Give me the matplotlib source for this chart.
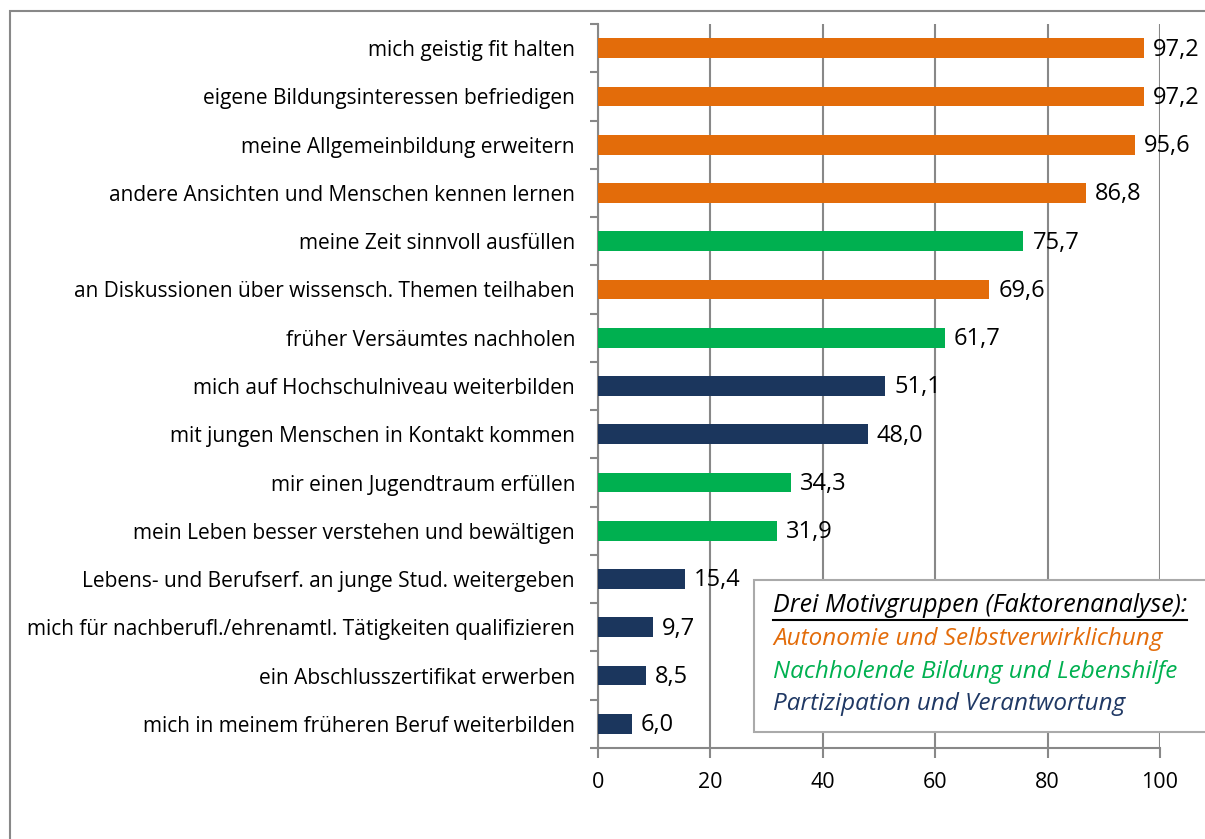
import matplotlib
matplotlib.use("Agg")
import matplotlib.pyplot as plt
from matplotlib.patches import Rectangle
import numpy as np

labels = [
    "mich geistig fit halten",
    "eigene Bildungsinteressen befriedigen",
    "meine Allgemeinbildung erweitern",
    "andere Ansichten und Menschen kennen lernen",
    "meine Zeit sinnvoll ausfüllen",
    "an Diskussionen über wissensch. Themen teilhaben",
    "früher Versäumtes nachholen",
    "mich auf Hochschulniveau weiterbilden",
    "mit jungen Menschen in Kontakt kommen",
    "mir einen Jugendtraum erfüllen",
    "mein Leben besser verstehen und bewältigen",
    "Lebens- und Berufserf. an junge Stud. weitergeben",
    "mich für nachberufl./ehrenamtl. Tätigkeiten qualifizieren",
    "ein Abschlusszertifikat erwerben",
    "mich in meinem früheren Beruf weiterbilden",
]
values = [97.2, 97.2, 95.6, 86.8, 75.7, 69.6, 61.7, 51.1, 48.0, 34.3, 31.9, 15.4, 9.7, 8.5, 6.0]
groups = ["A", "A", "A", "A", "N", "A", "N", "P", "P", "N", "N", "P", "P", "P", "P"]
group_names = {
    "A": "Autonomie und Selbstverwirklichung",
    "N": "Nachholende Bildung und Lebenshilfe",
    "P": "Partizipation und Verantwortung",
}
legend_title = "Drei Motivgruppen (Faktorenanalyse):"
xticks = [0, 20, 40, 60, 80, 100]

colors = {"A": "#E36C0A", "N": "#00B050", "P": "#1B365D"}
text_colors = {"A": "#E36C0A", "N": "#00B050", "P": "#1F3864"}

plt.rcParams['font.family'] = ['Open Sans', 'DejaVu Sans']

fig = plt.figure(figsize=(12.05, 8.39), dpi=100)
W, H = 1205, 839
ax = fig.add_axes([598 / W, 1 - 748 / H, (1160 - 598) / W, (748 - 24) / H])

n = len(labels)
y = np.arange(n)
ax.barh(y, values, height=0.41, color=[colors[g] for g in groups], zorder=3)
for yi, v in zip(y, values):
    ax.annotate(f"{v:.1f}".replace(".", ","), (v, yi), xytext=(6.5, -1),
                textcoords="offset points", va="center", ha="left",
                fontsize=17, color="black", zorder=4)

ax.set_ylim(n - 0.5, -0.5)
ax.set_xlim(0, 100)
ax.set_yticks(y)
ax.set_yticklabels(labels, fontsize=15)
ax.set_yticks(np.arange(-0.5, n, 1), minor=True)
ax.tick_params(axis="y", which="major", length=0, pad=16.5)
ax.tick_params(axis="y", which="minor", length=6, color="#888888", width=1.5)
ax.set_xticks(xticks)
ax.set_xticklabels([str(t) for t in xticks], fontsize=15.5)
ax.tick_params(axis="x", length=7, color="#888888", width=1.5, pad=10)
ax.grid(axis="x", color="#888888", linewidth=1.5, zorder=0)
for s in ["top", "right"]:
    ax.spines[s].set_visible(False)
for s in ["left", "bottom"]:
    ax.spines[s].set_color("#888888")
    ax.spines[s].set_linewidth(1.5)

# outer frame
fig.patches.append(Rectangle((10 / W, -0.1), 1.2, 1 - 11 / H + 0.1, transform=fig.transFigure,
                             fill=False, edgecolor="#888888", linewidth=1.5, clip_on=False))

# legend box
fig.patches.append(Rectangle((754 / W, 1 - 732 / H), 0.5, (732 - 580) / H, transform=fig.transFigure,
                             facecolor="white", edgecolor="#AAAAAA", linewidth=1.5, zorder=5))
tx = 773 / W
t = fig.text(tx, 1 - 606 / H, legend_title, fontsize=18, style="italic", color="black",
             va="center", ha="left", zorder=6)
fig.canvas.draw()
bb = t.get_window_extent()
fig.add_artist(plt.Line2D([bb.x0 / W, bb.x1 / W], [1 - 620 / H, 1 - 620 / H],
                          transform=fig.transFigure, color="black", linewidth=1.5, zorder=6))
for i, g in enumerate(["A", "N", "P"]):
    fig.text(tx, 1 - (639 + 32.5 * i) / H, group_names[g], fontsize=17.5, style="italic",
             color=text_colors[g], va="center", ha="left", zorder=6)

fig.savefig("out.png", dpi=100)
